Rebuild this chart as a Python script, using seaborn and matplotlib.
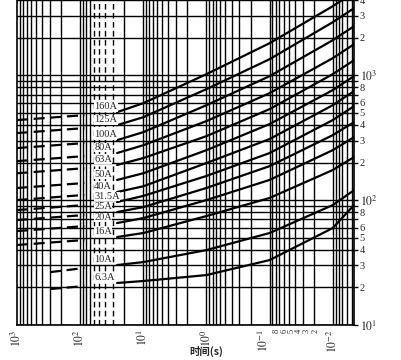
import numpy as np
import pandas as pd
import seaborn as sns
import matplotlib.pyplot as plt
import matplotlib.transforms as mtrans
from matplotlib.ticker import FixedLocator, FixedFormatter

sns.set_style("white")
plt.rcParams['font.family'] = ['Liberation Serif', 'DejaVu Serif']
plt.rcParams['mathtext.fontset'] = 'stix'

# fuse ratings, from top curve to bottom curve
ratings = ['160A', '125A', '100A', '80A', '63A', '50A', '40A',
           '31.5A', '25A', '20A', '16A', '10A', '6.3A']

# solid part of each curve: time (s) -> current (A)
t_solid = [26, 10, 1, 0.1, 0.01, 0.0046]
i_160 = [506, 597, 1019, 1803, 3565, 4613]
i_125 = [398, 461, 773, 1343, 2655, 3436]
i_100 = [302, 350, 575, 982, 1905, 2466]
i_80 = [238, 275, 429, 718, 1368, 1770]
i_63 = [191, 217, 325, 535, 1019, 1318]
i_50 = [145, 164, 251, 406, 759, 982]
i_40 = [116, 129, 198, 308, 575, 745]
i_31 = [96.4, 108, 156, 238, 437, 565]
i_25 = [80.2, 87.9, 125, 187, 331, 421]
i_20 = [65.5, 71.8, 100, 145, 251, 319]
i_16 = [50.6, 54.5, 74.5, 104, 174, 221]
i_10 = [30.2, 31.9, 39.8, 54.5, 91.2, 120]
i_6 = [21.7, 22.5, 25.1, 33.1, 59.7, 91.2]
solid = [i_160, i_125, i_100, i_80, i_63, i_50, i_40,
         i_31, i_25, i_20, i_16, i_10, i_6]

# dashed part (long times)
t_dash = [1000, 86]
t_dash_low = [300, 86]
dash = [[437, 479], [344, 377], [261, 286], [205, 225], [164, 180],
        [125, 137], [100, 110], [83.2, 91.2], [69.2, 75.9], [56.5, 61.9],
        [43.7, 47.9], [26.5, 28.6], [19.4, 20.5]]

x_major = [1e3, 1e2, 1e1, 1, 0.1, 0.01]
x_major_lab = ['$10^3$', '$10^2$', '$10^1$', '$10^0$', '$10^{-1}$', '$10^{-2}$']
x_minor = [0.08, 0.06, 0.05, 0.04, 0.03, 0.02]
x_minor_lab = ['8', '6', '5', '4', '3', '2']
y_major = [10, 100, 1000]
y_major_lab = ['$10^1$', '$10^2$', '$10^3$']

rows = []
for r, vals in zip(ratings, solid):
    for t, i in zip(t_solid, vals):
        rows.append((r, 'solid', t, i))
for r, vals in zip(ratings, dash):
    ts = t_dash_low if r in ('10A', '6.3A') else t_dash
    for t, i in zip(ts, vals):
        rows.append((r, 'dash', t, i))
df = pd.DataFrame(rows, columns=['rating', 'part', 't', 'I'])

fig = plt.figure(figsize=(4.01, 3.60), dpi=100)
ax = fig.add_axes([17 / 401, 35 / 360, 337 / 401, 325 / 360])
ax.set_xscale('log')
ax.set_yscale('log')

# grid
ax.grid(True, which='both', axis='y', color='black', lw=1.0)
for d in [100, 10, 1, 0.1, 0.01, 0.001]:
    for m in range(1, 10):
        xv = d * m
        if xv > 1000:
            continue
        if d == 10 and m in (3, 4, 5, 6):
            ax.axvline(xv, color='black', lw=1.0, ls=(0, (4, 2.5)), zorder=1)
        else:
            ax.axvline(xv, color='black', lw=1.0, zorder=1)

sns.lineplot(data=df[df.part == 'solid'], x='t', y='I', units='rating',
             estimator=None, sort=False, color='black', lw=1.6, ax=ax, zorder=3)
sns.lineplot(data=df[df.part == 'dash'], x='t', y='I', units='rating',
             estimator=None, sort=False, color='black', lw=1.6,
             ls=(0, (5, 2.5)), ax=ax, zorder=3)

for r, vals in zip(ratings, solid):
    ax.annotate(r, (60, vals[0]), xytext=(0, 4), textcoords='offset points',
                ha='left', va='center', fontsize=7.5, zorder=4,
                bbox=dict(facecolor='white', edgecolor='none', pad=0.3))

ax.set_xlim(1000, 0.0046)
ax.set_ylim(10, 4000)

ax.xaxis.set_major_locator(FixedLocator(x_major))
ax.xaxis.set_major_formatter(FixedFormatter(x_major_lab))
ax.xaxis.set_minor_locator(FixedLocator(x_minor))
ax.xaxis.set_minor_formatter(FixedFormatter(x_minor_lab))
ax.tick_params(axis='x', which='major', length=0, pad=3, labelsize=8.5,
               labelrotation=90)
ax.tick_params(axis='x', which='minor', length=0, pad=3, labelsize=6,
               labelrotation=90)

y_minor = [d * m for d in y_major for m in range(2, 10) if d * m < 4100]
y_minor_lab = ['' if str(v)[0] in '79' else str(v)[0] for v in y_minor]
ax.yaxis.tick_right()
ax.yaxis.set_major_locator(FixedLocator(y_major))
ax.yaxis.set_major_formatter(FixedFormatter(y_major_lab))
ax.yaxis.set_minor_locator(FixedLocator(y_minor))
ax.yaxis.set_minor_formatter(FixedFormatter(y_minor_lab))
ax.tick_params(axis='y', which='major', length=3, width=1, color='black',
               pad=1, labelsize=8.5, right=True, left=False)
ax.tick_params(axis='y', which='minor', length=3, width=1, color='black',
               pad=1, labelsize=7.5, right=True, left=False)

for s in ['left', 'right', 'bottom']:
    ax.spines[s].set_color('black')
    ax.spines[s].set_linewidth(1.2)
ax.spines['top'].set_visible(False)

# spread the small labels a little, as in the original print
def shift(lab, px):
    lab.set_transform(lab.get_transform() +
                      mtrans.ScaledTranslation(px / 100, 0, fig.dpi_scale_trans))

shift(ax.get_xticklabels()[4], -6)
for lab, px in zip(ax.get_xticklabels(minor=True), [1, 1, 3, 4, 4, 2]):
    shift(lab, px)

ax.set_ylabel('')
ax.set_xlabel('时间(s)', family=['Noto Sans CJK SC'], fontweight='bold',
              fontsize=7.5)
ax.xaxis.set_label_coords((206 - 17) / 337, -0.065)

plt.savefig('out.png', dpi=100)
